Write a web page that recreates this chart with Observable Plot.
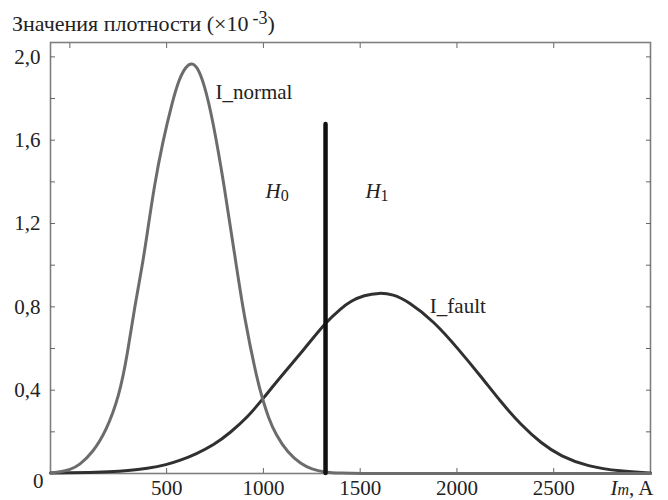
<!DOCTYPE html>
<html><head><meta charset="utf-8">
<script src="https://cdn.jsdelivr.net/npm/d3@7"></script>
<script src="https://cdn.jsdelivr.net/npm/@observablehq/plot@0.6"></script>
<style>
body{margin:0;background:#fff;}
#title{font-family:"Liberation Serif","Times New Roman",Times,"DejaVu Serif",serif;font-size:22px;color:#222;height:36px;box-sizing:border-box;padding:12px 0 0 12px;line-height:24px;white-space:nowrap;overflow:visible}
#title .sup{position:relative;top:-7px;font-size:18px;margin-left:4px}
</style></head><body>
<div id="title">Значения плотности (×10<span class="sup">-3</span>)</div>
<div id="chart"></div>
<script>
// I_normal density curve (values ×10^-3)
const normalX = [-100, -50, 0, 50, 117, 186, 255, 298, 332, 375, 401, 436, 479, 531, 565, 600, 630, 660, 694, 737, 797, 849, 901, 970, 996, 1025, 1064, 1125, 1194, 1250, 1314, 1400, 1500, 1700, 2000, 2500, 3000];
const normalY = [0.003, 0.007, 0.018, 0.04, 0.1, 0.2, 0.37, 0.575, 0.785, 1.0, 1.16, 1.38, 1.59, 1.79, 1.895, 1.955, 1.972, 1.95, 1.87, 1.706, 1.386, 1.066, 0.746, 0.44, 0.357, 0.27, 0.186, 0.1, 0.045, 0.02, 0.006, 0.002, 0, 0, 0, 0, 0];
// I_fault density curve
const faultX = [-100, 0, 100, 200, 300, 400, 500, 574, 651, 746, 830, 918, 996, 1090, 1211, 1323, 1400, 1452, 1520, 1598, 1670, 1745, 1882, 2003, 2124, 2227, 2330, 2434, 2537, 2675, 2847, 3000];
const faultY = [0.002, 0.003, 0.005, 0.008, 0.013, 0.024, 0.042, 0.064, 0.093, 0.138, 0.197, 0.27, 0.357, 0.465, 0.597, 0.727, 0.792, 0.828, 0.856, 0.868, 0.86, 0.828, 0.73, 0.602, 0.466, 0.343, 0.234, 0.146, 0.082, 0.034, 0.01, 0.002];
// decision threshold
const thresholdX = [1321];
const thresholdTop = [1.675];
// annotations
const labelText = ["I_normal", "H0", "H1", "I_fault"];
const labelX = [752, 1011, 1527, 1860];
const labelY = [1.828, 1.356, 1.356, 0.805];
// ticks
const xLabelTicks = [500, 1000, 1500, 2000, 2500];
const xTopTicks = [0, 500, 1000, 1500, 2000, 2500];
const yLabelTicks = [0.4, 0.8, 1.2, 1.6, 2.0];
const yMinorTicks = [0.2, 0.4, 0.6, 0.8, 1.0, 1.2, 1.4, 1.6, 1.8, 2.0];
const xDomain = [-100, 3000];
const yDomain = [0, 2.069];

const normalData = normalX.map((x, i) => ({x, y: normalY[i]}));
const faultData = faultX.map((x, i) => ({x, y: faultY[i]}));
const threshData = thresholdX.map((x, i) => ({x, y2: thresholdTop[i]}));
const labels = labelText.map((t, i) => ({t, x: labelX[i], y: labelY[i]}));
const comma = d => d.toFixed(1).replace(".", ",");
const blank = () => "";
const serif = '"Liberation Serif", "Times New Roman", Times, "DejaVu Serif", serif';

const plot = Plot.plot({
  width: 668, height: 464,
  marginLeft: 50, marginRight: 18, marginTop: 6, marginBottom: 27,
  style: {fontFamily: serif, fontSize: "21px", color: "#222", background: "#fff"},
  x: {domain: xDomain},
  y: {domain: yDomain},
  marks: [
    Plot.frame({stroke: "#7f7f7f", strokeWidth: 1.6}),
    Plot.axisY({anchor: "left", ticks: yLabelTicks, tickSize: 0, tickPadding: 10, tickFormat: comma, label: null}),
    Plot.axisY({anchor: "left", ticks: yMinorTicks, tickSize: -5, tickPadding: 0, tickFormat: blank, label: null, stroke: "#666"}),
    Plot.axisY({anchor: "right", ticks: yMinorTicks, tickSize: -5, tickPadding: 0, tickFormat: blank, label: null, stroke: "#666"}),
    Plot.axisX({anchor: "bottom", ticks: xLabelTicks, tickSize: 0, tickPadding: 7, tickFormat: d => String(d), label: null}),
    Plot.axisX({anchor: "bottom", ticks: xLabelTicks, tickSize: -5, tickPadding: 0, tickFormat: blank, label: null, stroke: "#666"}),
    Plot.axisX({anchor: "top", ticks: xTopTicks, tickSize: -5, tickPadding: 0, tickFormat: blank, label: null, stroke: "#666"}),
    Plot.line(faultData, {x: "x", y: "y", stroke: "#303030", strokeWidth: 3, curve: "basis"}),
    Plot.line(normalData, {x: "x", y: "y", stroke: "#6c6c6c", strokeWidth: 3, curve: "basis"}),
    Plot.ruleX(threshData, {x: "x", y1: 0, y2: "y2", stroke: "#111", strokeWidth: 4.5, strokeLinecap: "round"}),
    Plot.text(labels, {x: "x", y: "y", text: "t", textAnchor: "start", lineAnchor: "middle", fill: "#222"}),
    Plot.text(["0"], {frameAnchor: "bottom-left", text: d => d, textAnchor: "end", lineAnchor: "middle", dx: -7, dy: 8, fill: "#222"}),
    Plot.text(["I_m, A"], {frameAnchor: "bottom-right", text: d => d, textAnchor: "end", lineAnchor: "middle", dx: 3, dy: 15, fill: "#222"})
  ]
});
document.getElementById("chart").appendChild(plot);

function rich(el, parts) {
  const t = d3.select(el);
  t.text("");
  parts.forEach(p => {
    const s = t.append("tspan").text(p.t);
    if (p.italic) s.attr("font-style", "italic");
    if (p.size) s.attr("font-size", p.size);
    if (p.dy) s.attr("dy", p.dy);
  });
}
d3.select(plot).selectAll("text").each(function() {
  const c = this.textContent;
  if (c === "H0" || c === "H1") {
    rich(this, [{t: "H", italic: true}, {t: c[1], size: "16px", dy: "3px"}]);
  } else if (c === "I_m, A") {
    rich(this, [{t: "I", italic: true}, {t: "m", italic: true, size: "16px"}, {t: ", A"}]);
  }
});
</script>
</body></html>
